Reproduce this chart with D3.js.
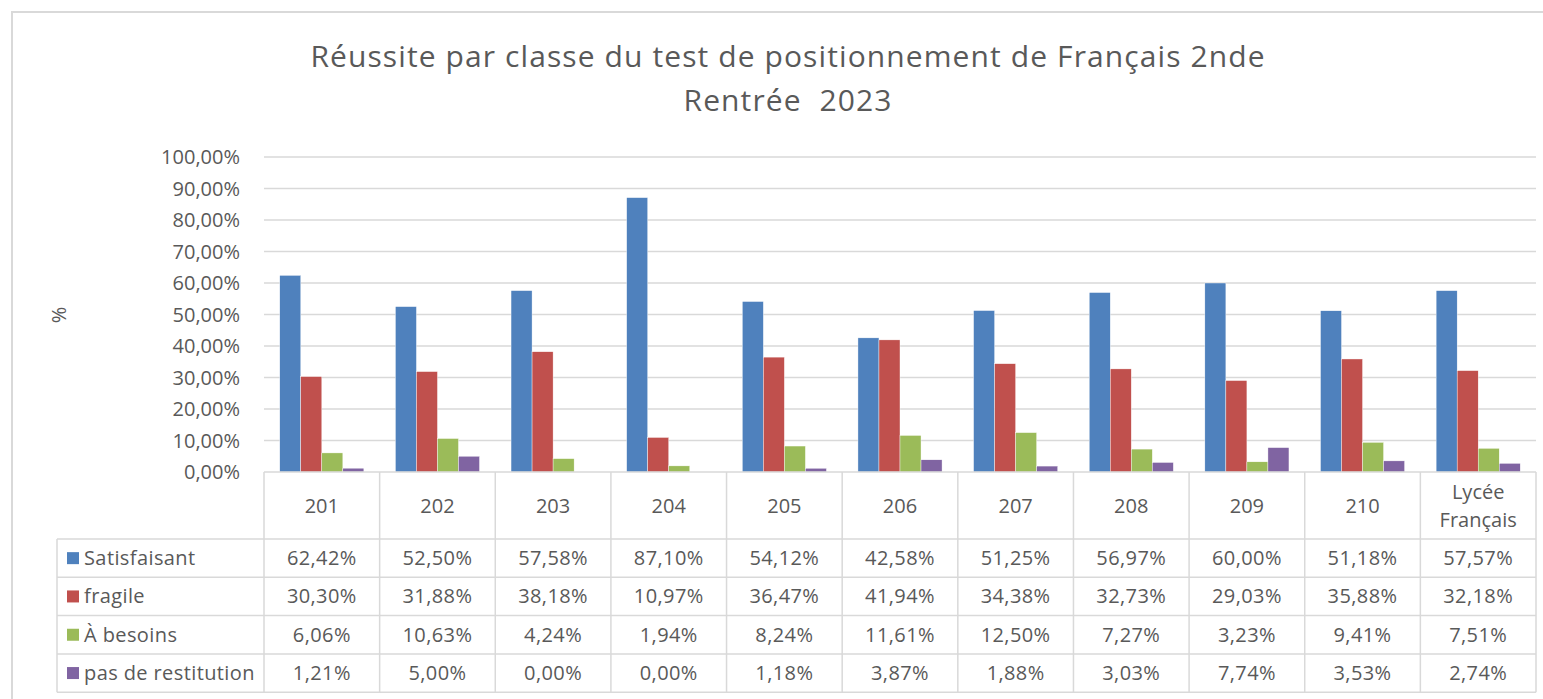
<!DOCTYPE html>
<html>
<head>
  <meta charset="utf-8">
  <title>Réussite par classe</title>
  <script src="https://cdn.jsdelivr.net/npm/d3@7"></script>
  <style>
    html, body {
      margin: 0;
      background: #fff;
    }
    svg {
      font-family: "Open Sans", Lato, sans-serif;
      display: block;
    }
    .grid line, .tbl line {
      stroke: #d9d9d9;
      stroke-width: 1.5px;
    }
    text {
      fill: #595959;
    }
  </style>
</head>
<body>
<svg id="chart" width="1543" height="699"></svg>
<script>
  var classes = ["201", "202", "203", "204", "205", "206", "207", "208", "209", "210", "Lycée Français"];
  var seriesNames = ["Satisfaisant", "fragile", "À besoins", "pas de restitution"];
  var satisfaisant = [62.42, 52.50, 57.58, 87.10, 54.12, 42.58, 51.25, 56.97, 60.00, 51.18, 57.57];
  var fragile = [30.30, 31.88, 38.18, 10.97, 36.47, 41.94, 34.38, 32.73, 29.03, 35.88, 32.18];
  var aBesoins = [6.06, 10.63, 4.24, 1.94, 8.24, 11.61, 12.50, 7.27, 3.23, 9.41, 7.51];
  var pasDeRestitution = [1.21, 5.00, 0.00, 0.00, 1.18, 3.87, 1.88, 3.03, 7.74, 3.53, 2.74];
  var yTicks = [0, 10, 20, 30, 40, 50, 60, 70, 80, 90, 100];
  var colors = ["#4f81bd", "#c0504d", "#9bbb59", "#8064a2"];

  (function () {

  var series = [satisfaisant, fragile, aBesoins, pasDeRestitution];

  var svg = d3.select("#chart");

  // outer frame (runs off the right and bottom edge, like the screenshot)
  svg.append("rect")
      .attr("x", 12).attr("y", 12)
      .attr("width", 1560).attr("height", 720)
      .attr("fill", "none")
      .attr("stroke", "#d9d9d9")
      .attr("stroke-width", 2);

  var plotLeft = 264, plotRight = 1536, plotTop = 157, plotBottom = 472;
  var legendLeft = 57;
  var headerBottom = 539, rowH = 38.3;

  var x = d3.scaleBand().domain(classes).range([plotLeft, plotRight]);
  var bw = x.bandwidth() / 5.5;
  var xs = d3.scaleBand().domain(d3.range(4)).range([0.75 * bw, 4.75 * bw]);
  var y = d3.scaleLinear().domain([0, 100]).range([plotBottom, plotTop]);

  var fmt = function(v) { return v.toFixed(2).replace(".", ",") + "%"; };

  // title
  var title = svg.append("text")
      .attr("text-anchor", "middle")
      .attr("font-size", 30)
      .attr("letter-spacing", 1.1);
  title.append("tspan").attr("x", 788).attr("y", 67).text("Réussite par classe du test de positionnement de Français 2nde");
  title.append("tspan").attr("x", 788).attr("y", 111).text("Rentrée\u00a0 2023");

  // grid
  svg.append("g").attr("class", "grid")
    .selectAll("line")
    .data(yTicks.slice(1))
    .enter().append("line")
      .attr("x1", plotLeft).attr("x2", plotRight)
      .attr("y1", function(d) { return y(d); })
      .attr("y2", function(d) { return y(d); });

  // y tick labels
  svg.append("g")
    .selectAll("text")
    .data(yTicks)
    .enter().append("text")
      .attr("x", 240)
      .attr("y", function(d) { return y(d); })
      .attr("dy", "0.35em")
      .attr("text-anchor", "end")
      .attr("font-size", 20)
      .text(function(d) { return fmt(d); });

  svg.append("text")
      .attr("transform", "translate(66,315) rotate(-90)")
      .attr("text-anchor", "middle")
      .attr("font-size", 20)
      .text("%");

  // bars
  var groups = svg.append("g")
    .selectAll("g")
    .data(classes)
    .enter().append("g")
      .attr("transform", function(d) { return "translate(" + x(d) + ",0)"; });

  groups.selectAll("rect")
    .data(function(d, i) { return series.map(function(s, k) { return { k: k, v: s[i] }; }); })
    .enter().append("rect")
      .attr("x", function(d) { return xs(d.k); })
      .attr("width", xs.bandwidth())
      .attr("y", function(d) { return y(d.v); })
      .attr("height", function(d) { return plotBottom - y(d.v); })
      .attr("fill", function(d) { return colors[d.k]; })
      .attr("stroke", "#fff")
      .attr("stroke-width", 0.4);

  // data table
  var tbl = svg.append("g").attr("class", "tbl");
  var tableBottom = headerBottom + 4 * rowH;

  tbl.append("line").attr("x1", plotLeft).attr("x2", plotRight).attr("y1", plotBottom).attr("y2", plotBottom);
  d3.range(5).forEach(function(r) {
    var yy = headerBottom + r * rowH;
    tbl.append("line").attr("x1", legendLeft).attr("x2", plotRight).attr("y1", yy).attr("y2", yy);
  });
  tbl.append("line").attr("x1", legendLeft).attr("x2", legendLeft).attr("y1", headerBottom).attr("y2", tableBottom);
  classes.forEach(function(c) {
    tbl.append("line").attr("x1", x(c)).attr("x2", x(c)).attr("y1", plotBottom).attr("y2", tableBottom);
  });
  tbl.append("line").attr("x1", plotRight).attr("x2", plotRight).attr("y1", plotBottom).attr("y2", tableBottom);

  // header labels
  classes.forEach(function(c) {
    var words = c.split(" ");
    var cx = x(c) + x.bandwidth() / 2;
    var cy = (plotBottom + headerBottom) / 2;
    var t = svg.append("text")
        .attr("text-anchor", "middle")
        .attr("font-size", 20);
    words.forEach(function(w, i) {
      t.append("tspan")
        .attr("x", cx)
        .attr("y", cy + (i - (words.length - 1) / 2) * 28)
        .attr("dy", "0.35em")
        .text(w);
    });
  });

  // rows
  series.forEach(function(s, k) {
    var cy = headerBottom + k * rowH + rowH / 2;
    svg.append("rect")
        .attr("x", 67).attr("y", cy - 6)
        .attr("width", 12).attr("height", 12)
        .attr("fill", colors[k]);
    svg.append("text")
        .attr("x", 84).attr("y", cy)
        .attr("dy", "0.35em")
        .attr("font-size", 20)
        .attr("letter-spacing", 0.4)
        .text(seriesNames[k]);
    s.forEach(function(v, i) {
      svg.append("text")
          .attr("x", x(classes[i]) + x.bandwidth() / 2)
          .attr("y", cy)
          .attr("dy", "0.35em")
          .attr("text-anchor", "middle")
          .attr("font-size", 20)
          .attr("letter-spacing", 0.4)
          .text(fmt(v));
    });
  });

  })();
</script>
</body>
</html>
